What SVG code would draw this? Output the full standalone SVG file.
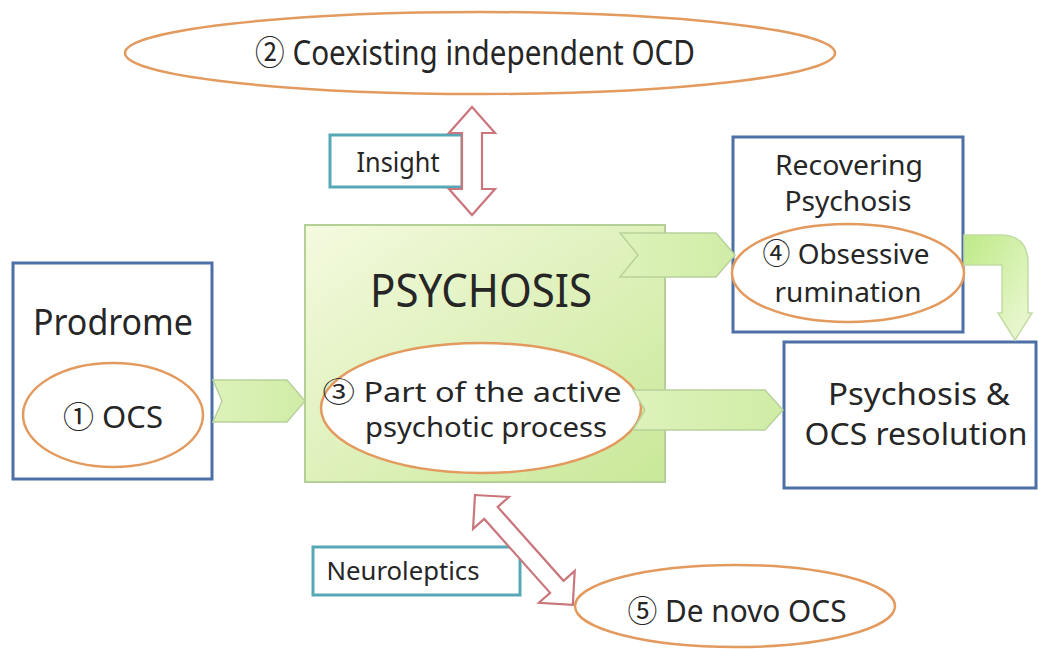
<svg xmlns="http://www.w3.org/2000/svg" width="1038" height="649" viewBox="0 0 1038 649">
<style>
text{font-family:"Noto Sans","Open Sans","Noto Sans CJK KR",sans-serif;fill:#262626;text-anchor:middle}
.oval{fill:#ffffff;stroke:#E39A5E;stroke-width:2.5}
.blue{fill:#ffffff;stroke:#4C6FA6;stroke-width:3}
.teal{fill:#ffffff;stroke:#56A8B6;stroke-width:3}
.dbl{fill:#ffffff;stroke:#C9777C;stroke-width:2.2}
.chev{fill:url(#gChev);stroke:#B9D19A;stroke-width:1.5}
</style>
<defs>
<linearGradient id="gPsy" x1="0" y1="0" x2="1" y2="1">
<stop offset="0" stop-color="#F4FADF"/>
<stop offset="1" stop-color="#C9E898"/>
</linearGradient>
<linearGradient id="gChev" x1="0" y1="0" x2="1" y2="0">
<stop offset="0" stop-color="#DDF2BA"/>
<stop offset="1" stop-color="#D0ECA6"/>
</linearGradient>
<linearGradient id="gBent" x1="0" y1="0" x2="1" y2="1">
<stop offset="0" stop-color="#BDEA86"/>
<stop offset="1" stop-color="#EFF8DA"/>
</linearGradient>
</defs>
<rect width="1038" height="649" fill="#ffffff"/>

<g id="coexisting">
<ellipse class="oval" cx="480" cy="53" rx="355" ry="41"/>
<text x="475" y="65" font-size="34" textLength="440" lengthAdjust="spacingAndGlyphs">② Coexisting independent OCD</text>
</g>

<g id="prodrome">
<rect class="blue" x="13" y="263" width="199" height="216"/>
<text x="113" y="335" font-size="37" textLength="160" lengthAdjust="spacingAndGlyphs">Prodrome</text>
<ellipse class="oval" cx="113" cy="415" rx="90" ry="52"/>
<text x="113" y="428" font-size="31" textLength="100" lengthAdjust="spacingAndGlyphs">① OCS</text>
</g>

<g id="psychosis">
<rect x="305" y="225" width="360" height="257" fill="url(#gPsy)" stroke="#B5D096" stroke-width="2"/>
<text x="481" y="307" font-size="46" textLength="222" lengthAdjust="spacingAndGlyphs">PSYCHOSIS</text>
<ellipse class="oval" cx="481" cy="408" rx="160" ry="65" fill="#FCFEF6"/>
<text x="472" y="402" font-size="27" textLength="299" lengthAdjust="spacingAndGlyphs">③ Part of the active</text>
<text x="486" y="437" font-size="27" textLength="242" lengthAdjust="spacingAndGlyphs">psychotic process</text>
</g>

<g id="recovering">
<rect class="blue" x="733" y="137" width="230" height="195"/>
<text x="849" y="175" font-size="27" textLength="148" lengthAdjust="spacingAndGlyphs">Recovering</text>
<text x="848" y="211" font-size="27" textLength="127" lengthAdjust="spacingAndGlyphs">Psychosis</text>
<ellipse class="oval" cx="848" cy="273" rx="116" ry="49" fill="none"/>
<text x="846" y="264" font-size="28" textLength="167" lengthAdjust="spacingAndGlyphs">④ Obsessive</text>
<text x="848" y="302" font-size="28" textLength="147" lengthAdjust="spacingAndGlyphs">rumination</text>
</g>

<g id="resolution">
<rect class="blue" x="784" y="342" width="252" height="146"/>
<text x="919" y="405" font-size="31" textLength="182" lengthAdjust="spacingAndGlyphs">Psychosis &amp;</text>
<text x="916" y="445" font-size="31" textLength="223" lengthAdjust="spacingAndGlyphs">OCS resolution</text>
</g>

<g id="insight">
<rect class="teal" x="330" y="135" width="132" height="52"/>
<text x="398" y="172" font-size="27" textLength="83" lengthAdjust="spacingAndGlyphs">Insight</text>
</g>

<g id="neuroleptics">
<rect class="teal" x="313" y="547" width="207" height="48"/>
<text x="403" y="580" font-size="26" textLength="153" lengthAdjust="spacingAndGlyphs">Neuroleptics</text>
</g>

<g id="denovo">
<ellipse class="oval" cx="735" cy="606" rx="160" ry="41"/>
<text x="737" y="622" font-size="31" textLength="219" lengthAdjust="spacingAndGlyphs">⑤ De novo OCS</text>
</g>

<g id="connectors">
<polygon class="chev" points="213,380 287,380 305,401 287,422 213,422 222,401"/>
<polygon class="chev" points="620,233 716,233 735,255 716,277 620,277 638,255"/>
<polygon class="chev" points="633,390 765,390 783,410 765,430 633,430 645,410"/>
<path d="M964,235 H1000 Q1028,235 1028,263 V313 H1032 L1015,340 L998,313 H1002 V265 H964 Z" fill="url(#gBent)" stroke="#C3DBA4" stroke-width="1.5"/>
<polygon class="dbl" transform="translate(472,107) rotate(90)" points="0,0 26,-23 26,-10 82,-10 82,-23 108,0 82,23 82,10 26,10 26,23"/>
<polygon class="dbl" transform="translate(475,495) rotate(48.3)" points="0,0 24,-24 24,-9 123,-9 123,-24 147,0 123,24 123,9 24,9 24,24"/>
</g>
</svg>
